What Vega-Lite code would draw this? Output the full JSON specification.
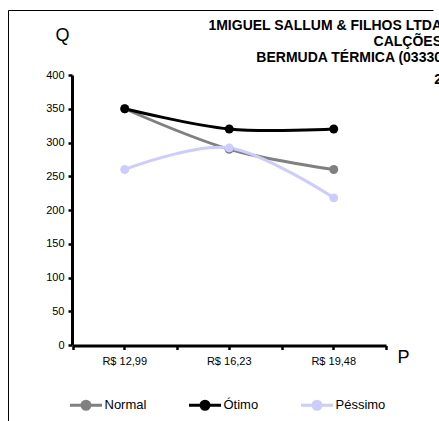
{
  "$schema": "https://vega.github.io/schema/vega-lite/v6.json",
  "autosize": {"type": "none"},
  "padding": {"left": 8, "top": 10, "right": 6, "bottom": 0},
  "width": 425,
  "height": 411,
  "background": "white",
  "title": {
    "text": ["1MIGUEL SALLUM & FILHOS LTDA", "CALÇÕES", "BERMUDA TÉRMICA (03330"],
    "subtitle": "2",
    "anchor": "end",
    "frame": "group",
    "align": "right",
    "baseline": "top",
    "offset": -76.5,
    "dx": 9,
    "font": "Liberation Sans",
    "fontSize": 14,
    "fontWeight": "bold",
    "color": "#000000",
    "lineHeight": 16,
    "subtitleFont": "Liberation Sans",
    "subtitleFontSize": 14,
    "subtitleFontWeight": "bold",
    "subtitleColor": "#000000",
    "subtitlePadding": 7.5
  },
  "data": {
    "values": [
      {"preco": "R$ 12,99", "serie": "Normal", "q": 350},
      {"preco": "R$ 16,23", "serie": "Normal", "q": 290},
      {"preco": "R$ 19,48", "serie": "Normal", "q": 260},
      {"preco": "R$ 12,99", "serie": "Ótimo", "q": 350},
      {"preco": "R$ 16,23", "serie": "Ótimo", "q": 320},
      {"preco": "R$ 19,48", "serie": "Ótimo", "q": 320},
      {"preco": "R$ 12,99", "serie": "Péssimo", "q": 260},
      {"preco": "R$ 16,23", "serie": "Péssimo", "q": 292},
      {"preco": "R$ 19,48", "serie": "Péssimo", "q": 218}
    ]
  },
  "encoding": {
    "y": {
      "field": "q",
      "type": "quantitative",
      "scale": {"domain": [0, 400], "range": [335, 65], "nice": false, "zero": true},
      "axis": {
        "title": "Q",
        "orient": "left",
        "offset": -64,
        "values": [0, 50, 100, 150, 200, 250, 300, 350, 400],
        "grid": false,
        "domainWidth": 3,
        "tickWidth": 2.5,
        "tickSize": 4,
        "labelPadding": 4,
        "labelFontSize": 11,
        "titleAngle": 0,
        "titleX": -10,
        "titleY": 25,
        "titleAlign": "center",
        "titleBaseline": "middle",
        "titleFontSize": 18,
        "titleFontWeight": "normal"
      }
    },
    "color": {
      "field": "serie",
      "type": "nominal",
      "scale": {"domain": ["Normal", "Ótimo", "Péssimo"], "range": ["#808080", "#000000", "#ccccff"]},
      "legend": {
        "title": null,
        "orient": "none",
        "legendX": 60.5,
        "legendY": 377.5,
        "direction": "horizontal",
        "gridAlign": "each",
        "columnPadding": 36,
        "padding": 0,
        "symbolType": "M-1,0H1M-0.25,0A0.25,0.25,0,1,1,0.25,0A0.25,0.25,0,1,1,-0.25,0",
        "symbolSize": 1024,
        "symbolStrokeWidth": 3,
        "symbolOffset": 0,
        "labelOffset": 1,
        "labelFont": "Liberation Sans",
        "labelFontSize": 13,
        "labelColor": "#000000",
        "encode": {
          "symbols": {
            "update": {
              "fill": {"scale": "color", "field": "value"},
              "stroke": {"scale": "color", "field": "value"},
              "opacity": {"value": 1}
            }
          }
        }
      }
    }
  },
  "layer": [
    {
      "mark": {"type": "line", "interpolate": "cardinal", "strokeWidth": 3},
      "encoding": {
        "x": {
          "field": "preco",
          "type": "ordinal",
          "scale": {"type": "band", "range": [64.5, 378], "paddingInner": 0, "paddingOuter": 0},
          "axis": {
            "title": "P",
            "orient": "bottom",
            "offset": -75.5,
            "tickBand": "center",
            "grid": false,
            "domainWidth": 3,
            "tickWidth": 2.5,
            "tickSize": 4,
            "labelPadding": 6,
            "labelFontSize": 11,
            "labelAngle": 0,
            "titleX": 395,
            "titleY": 12,
            "titleAlign": "center",
            "titleBaseline": "middle",
            "titleFontSize": 18,
            "titleFontWeight": "normal"
          }
        }
      }
    },
    {
      "mark": {"type": "point", "filled": true, "size": 80, "opacity": 1},
      "encoding": {
        "x": {
          "field": "preco",
          "type": "ordinal",
          "axis": {
            "orient": "bottom",
            "offset": -75.5,
            "tickBand": "extent",
            "grid": false,
            "domain": false,
            "labels": false,
            "title": null,
            "tickWidth": 2.5,
            "tickSize": 4
          }
        }
      }
    }
  ],
  "resolve": {"axis": {"x": "independent"}},
  "config": {
    "view": {"stroke": "#000000", "strokeWidth": 1, "strokeDash": [425, 836, 411, 1]},
    "axis": {
      "domainColor": "#000000",
      "tickColor": "#000000",
      "labelColor": "#000000",
      "titleColor": "#000000",
      "labelFont": "Liberation Sans",
      "titleFont": "Liberation Sans"
    }
  }
}
